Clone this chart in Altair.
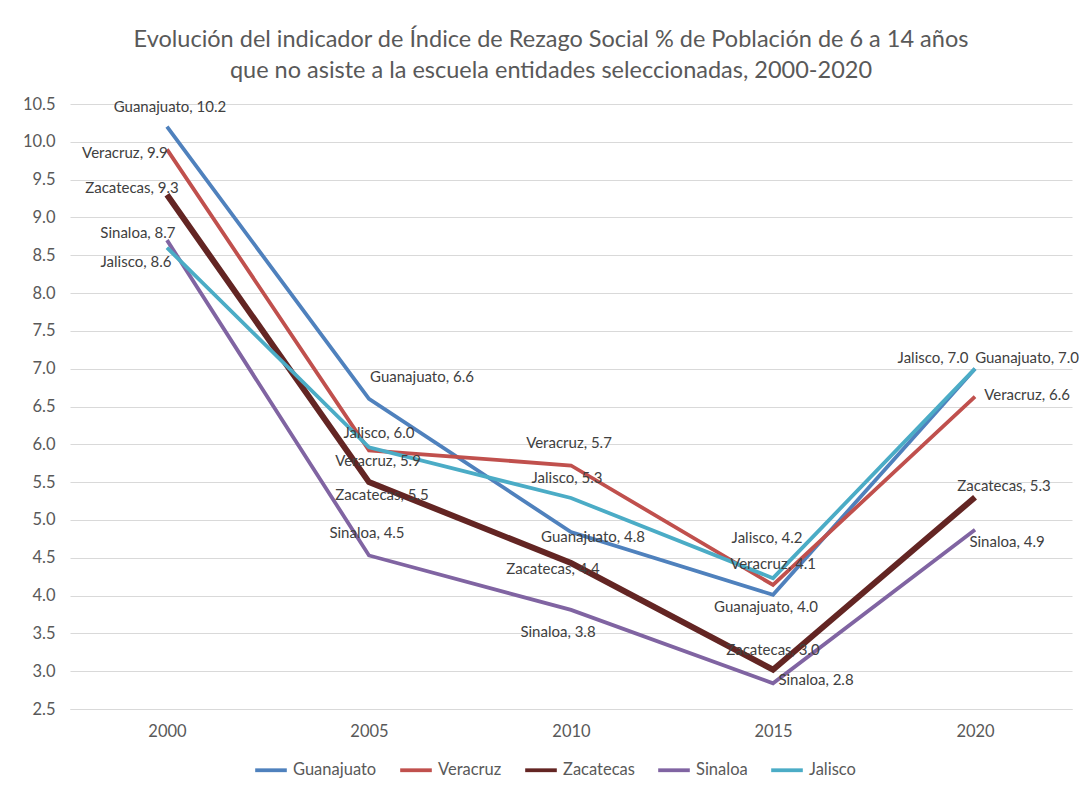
import altair as alt
import pandas as pd

# ---- data ----
years = ["2000", "2005", "2010", "2015", "2020"]
series = ["Guanajuato", "Veracruz", "Zacatecas", "Sinaloa", "Jalisco"]
guanajuato = [10.2, 6.6, 4.84, 4.01, 7.0]
veracruz = [9.9, 5.92, 5.72, 4.14, 6.63]
zacatecas = [9.3, 5.5, 4.43, 3.02, 5.3]
sinaloa = [8.7, 4.53, 3.81, 2.84, 4.87]
jalisco = [8.6, 5.96, 5.29, 4.23, 7.0]
y_ticks = [2.5, 3.0, 3.5, 4.0, 4.5, 5.0, 5.5, 6.0, 6.5, 7.0, 7.5, 8.0, 8.5, 9.0, 9.5, 10.0, 10.5]

title_lines = [
    "Evolución del indicador de Índice de Rezago Social % de Población de 6 a 14 años",
    "que no asiste a la escuela entidades seleccionadas, 2000-2020",
]

# ---- styles ----
colors = ["#4F81BD", "#C0504D", "#632523", "#8064A2", "#4BACC6"]
THIN, THICK = 3.8, 6.0
FONT = "Lato"

# label offsets (pixels) per (series, year)
label_offsets = {
    ("Guanajuato", "2000"): (3, -20), ("Veracruz", "2000"): (-42, 4),
    ("Zacatecas", "2000"): (-35, -7), ("Sinaloa", "2000"): (-29, -7),
    ("Jalisco", "2000"): (-31, 14),
    ("Guanajuato", "2005"): (53, -22), ("Jalisco", "2005"): (10, -14),
    ("Veracruz", "2005"): (9, 11), ("Zacatecas", "2005"): (13, 13),
    ("Sinaloa", "2005"): (-2, -22),
    ("Veracruz", "2010"): (-2, -22), ("Jalisco", "2010"): (-4, -20),
    ("Guanajuato", "2010"): (22, 5), ("Zacatecas", "2010"): (-18, 6),
    ("Sinaloa", "2010"): (-13, 22),
    ("Jalisco", "2015"): (-6, -40), ("Veracruz", "2015"): (0, -21),
    ("Guanajuato", "2015"): (-7, 12), ("Zacatecas", "2015"): (0, -20),
    ("Sinaloa", "2015"): (43, -3),
    ("Jalisco", "2020"): (-42, -11), ("Guanajuato", "2020"): (52, -11),
    ("Veracruz", "2020"): (52, -2), ("Zacatecas", "2020"): (29, -11),
    ("Sinaloa", "2020"): (32, 12),
}

vals = [guanajuato, veracruz, zacatecas, sinaloa, jalisco]
rows = []
for s, v in zip(series, vals):
    for yr, val in zip(years, v):
        rows.append({"Entidad": s, "Año": yr, "Valor": val, "orden": series.index(s)})
df = pd.DataFrame(rows)

x_enc = alt.X(
    "Año:O",
    sort=years,
    scale=alt.Scale(type="point", padding=0.48),
    axis=alt.Axis(
        title=None, labelAngle=0, ticks=False, domain=True, domainColor="#d9d9d9",
        labelFontSize=16.5, labelColor="#595959", labelFont=FONT, labelPadding=14,
        grid=False,
    ),
)
y_enc = alt.Y(
    "Valor:Q",
    scale=alt.Scale(domain=[2.5, 10.5], nice=False, zero=False),
    axis=alt.Axis(
        title=None, values=y_ticks, format=".1f", ticks=False, domain=False,
        labelFontSize=16.5, labelColor="#595959", labelFont=FONT, labelPadding=15,
        gridColor="#d9d9d9", gridWidth=1,
    ),
)

legend = alt.Legend(
    title=None, orient="none", direction="horizontal", legendX=183, legendY=648,
    symbolType="stroke", symbolSize=1000, symbolStrokeWidth=THIN,
    labelFontSize=16.5, labelColor="#595959", labelFont=FONT,
    columnPadding=15, labelOffset=4,
)

base = alt.Chart(df)

lines = base.mark_line(strokeCap="butt", strokeJoin="miter").encode(
    x=x_enc,
    y=y_enc,
    color=alt.Color(
        "Entidad:N",
        scale=alt.Scale(domain=series, range=colors),
        sort=series,
        legend=legend,
    ),
    strokeWidth=alt.condition(
        alt.datum.Entidad == "Zacatecas", alt.value(THICK), alt.value(THIN)
    ),
    order=alt.Order("orden:Q"),
)

text_layers = []
for (s, yr), (dx, dy) in label_offsets.items():
    t = (
        base.transform_filter(
            (alt.datum.Entidad == s) & (alt.datum["Año"] == yr)
        )
        .transform_calculate(label=alt.datum.Entidad + ", " + alt.expr.format(alt.datum.Valor, ".1f"))
        .mark_text(dx=dx, dy=dy, align="center", baseline="middle",
                   fontSize=15, font=FONT, color="#404040")
        .encode(x=x_enc, y=y_enc, text="label:N")
    )
    text_layers.append(t)

chart = (
    alt.layer(lines, *text_layers)
    .properties(
        width=1002,
        height=605,
        autosize=alt.AutoSizeParams(type="none"),
        padding={"left": 62, "top": 96, "right": 7, "bottom": 74},
        title=alt.TitleParams(
            title_lines, fontSize=23.5, font=FONT, color="#595959",
            fontWeight="normal", anchor="middle", dx=-20, offset=14, lineHeight=31,
        ),
    )
    .configure_view(stroke=None)
)

chart.save("out.html", embed_options={"renderer": "svg", "actions": False})
